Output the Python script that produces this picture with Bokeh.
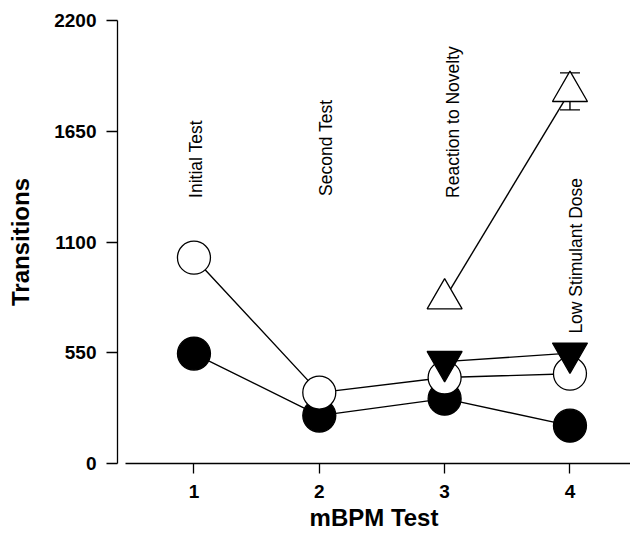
import math
from bokeh.plotting import figure
from bokeh.models import Range1d, FixedTicker, ColumnDataSource, Whisker, TeeHead
from bokeh.core.properties import value
from bokeh.embed import file_html
from bokeh.resources import INLINE

# ---- data ----
tests = [1, 2, 3, 4]
open_circles = [1022, 352, 427, 446]
filled_circles = [546, 238, 322, 188]
tri_tests = [3, 4]
filled_down_triangles = [506, 548]
open_up_triangles = [818, 1848]
open_up_triangles_err = [0, 92]

y_ticks = [0, 550, 1100, 1650, 2200]
x_ticks = [1, 2, 3, 4]

phase_names = ["Initial Test", "Second Test", "Reaction to Novelty", "Low Stimulant Dose"]
phase_x = [1.015, 2.055, 3.07, 4.05]
phase_y = [1319, 1329, 1319, 645]

FONT = "Liberation Sans"

p = figure(width=630, height=536, output_backend="svg", toolbar_location=None,
           x_range=Range1d(0.39, 4.483), y_range=Range1d(0, 2200),
           min_border_left=117, min_border_right=0, min_border_top=20, min_border_bottom=73)
p.outline_line_color = None
p.grid.visible = False
p.background_fill_color = "white"
p.border_fill_color = "white"

# axes
for ax in (p.xaxis[0], p.yaxis[0]):
    ax.axis_line_color = "black"
    ax.axis_line_width = 1.3
    ax.major_tick_line_color = "black"
    ax.major_tick_line_width = 1.3
    ax.minor_tick_line_color = None
    ax.major_tick_in = 0
    ax.major_label_text_font = FONT
    ax.major_label_text_font_style = "bold"
    ax.major_label_text_font_size = "19px"
    ax.major_label_text_color = "black"
    ax.axis_label_text_font = FONT
    ax.axis_label_text_font_style = "bold"
    ax.axis_label_text_font_size = "24px"
    ax.axis_label_text_color = "black"

p.yaxis.ticker = FixedTicker(ticks=y_ticks)
p.yaxis.major_tick_out = 11
p.yaxis.major_label_standoff = 10
p.yaxis.axis_label = "Transitions"
p.yaxis.axis_label_standoff = 17

p.xaxis.ticker = FixedTicker(ticks=x_ticks)
p.xaxis.major_tick_out = 10
p.xaxis.major_label_standoff = 11
p.xaxis.bounds = (0.4535, 4.483)
p.xaxis.axis_label = "mBPM Test"
p.xaxis.axis_label_standoff = 3

# series lines
src_c = ColumnDataSource(dict(x=tests, o=open_circles, f=filled_circles))
src_t = ColumnDataSource(dict(x=tri_tests, d=filled_down_triangles, u=open_up_triangles,
                              lo=[v - e for v, e in zip(open_up_triangles, open_up_triangles_err)],
                              hi=[v + e for v, e in zip(open_up_triangles, open_up_triangles_err)]))

LW = 1.4
p.line("x", "f", source=src_c, line_color="black", line_width=LW)
p.line("x", "o", source=src_c, line_color="black", line_width=LW)
p.line("x", "d", source=src_t, line_color="black", line_width=LW)
p.line("x", "u", source=src_t, line_color="black", line_width=LW)

# error bars (under markers)
w = Whisker(source=src_t, base="x", lower="lo", upper="hi", level="underlay",
            line_color="black", line_width=LW,
            lower_head=TeeHead(size=20, line_color="black", line_width=LW),
            upper_head=TeeHead(size=20, line_color="black", line_width=LW))
p.add_layout(w)

# markers
p.scatter("x", "f", source=src_c, marker="circle", size=33,
          fill_color="black", line_color="black", line_width=1.3)
p.scatter("x", "o", source=src_c, marker="circle", size=33,
          fill_color="white", line_color="black", line_width=1.3)
p.scatter("x", "d", source=src_t, marker="inverted_triangle", size=35,
          fill_color="black", line_color="black", line_width=1.3)
p.scatter("x", "u", source=src_t, marker="triangle", size=35,
          fill_color="white", line_color="black", line_width=1.3)

# phase annotations
p.text(x=phase_x, y=phase_y, text=phase_names, angle=math.pi / 2,
       text_align="left", text_baseline="middle",
       text_font=value(FONT), text_font_size="17.5px", text_color="black")

open("out.html", "w").write(file_html(p, INLINE))
